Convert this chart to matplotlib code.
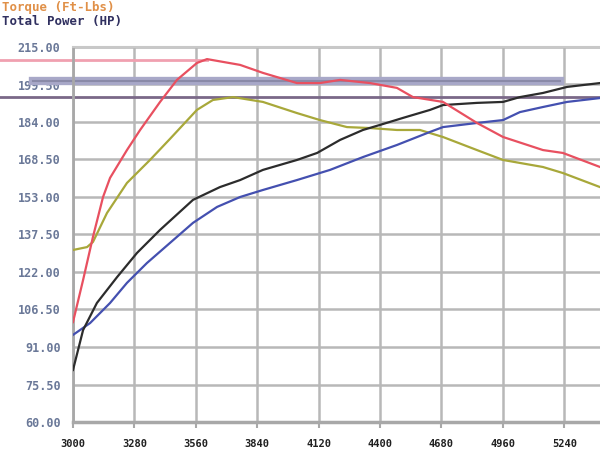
import matplotlib

matplotlib.use("Agg")
import matplotlib.pyplot as plt

# traced from the dyno sheet (rpm, value)
red_rpm = [3000, 3046, 3091, 3137, 3169, 3246, 3306, 3397, 3474, 3565, 3611, 3762, 3866,
           4021, 4126, 4218, 4354, 4477, 4550, 4687, 4842, 4961, 5143, 5234, 5403]
red_val = [101.3, 118.7, 136.5, 153.0, 160.9, 172.4, 180.7, 192.3, 201.4, 208.4, 210.0, 207.6, 204.3,
           200.1, 200.1, 201.4, 200.1, 198.1, 194.3, 192.3, 183.6, 177.8, 172.4, 171.2, 165.4]

yellow_rpm = [3000, 3064, 3091, 3155, 3246, 3351, 3442, 3565, 3638, 3730, 3866, 4021,
              4126, 4249, 4354, 4477, 4582, 4687, 4842, 4961, 5143, 5234, 5403]
yellow_val = [131.1, 132.3, 134.4, 146.4, 158.8, 168.3, 177.0, 189.0, 193.1, 194.3, 192.3, 187.7,
              184.8, 181.9, 181.5, 180.7, 180.7, 177.8, 172.4, 168.3, 165.4, 162.9, 157.1]

black_rpm = [3000, 3046, 3109, 3201, 3292, 3397, 3547, 3670, 3762, 3866, 4021, 4113,
             4218, 4322, 4400, 4505, 4628, 4687, 4842, 4961, 5038, 5143, 5253, 5403]
black_val = [81.5, 98.0, 109.2, 119.9, 129.9, 139.4, 151.8, 157.1, 160.0, 164.2, 168.3, 171.2,
             176.6, 180.7, 182.8, 185.7, 189.0, 191.0, 191.9, 192.3, 194.3, 196.0, 198.5, 200.1]

blue_rpm = [3000, 3078, 3169, 3246, 3337, 3442, 3547, 3657, 3762, 3866, 4021,
            4172, 4322, 4477, 4628, 4687, 4842, 4961, 5038, 5143, 5253, 5403]
blue_val = [96.0, 100.9, 109.2, 117.5, 125.7, 134.0, 142.3, 148.9, 153.0, 155.9, 160.0,
            164.2, 169.5, 174.5, 179.9, 181.9, 183.6, 184.8, 188.1, 190.2, 192.3, 193.9]

x_ticks = [3000, 3280, 3560, 3840, 4120, 4400, 4680, 4960, 5240]
y_ticks = [60.0, 75.5, 91.0, 106.5, 122.0, 137.5, 153.0, 168.5, 184.0, 199.5, 215.0]

# peak cursor lines: (value, rpm start, rpm end)
pink_cursor = (209.6, 2667, 3611)
band_cursor = (201.0, 2818, 5221)
purple_cursor = (194.3, 2667, 5403)

fig = plt.figure(figsize=(6.0, 4.54), dpi=100)
ax = fig.add_axes([73 / 600, 1 - 422 / 454, 1 - 73 / 600, 375 / 454])
ax.set_xlim(3000, 5403)
ax.set_ylim(60, 215)

ax.set_xticks(x_ticks)
ax.set_yticks(y_ticks)
ax.set_xticklabels([str(v) for v in x_ticks])
ax.set_yticklabels([f"{v:.2f}" for v in y_ticks])
ax.grid(True, color="#b8b8b8", linewidth=1.8)
ax.set_axisbelow(True)

ax.spines["right"].set_visible(False)
ax.spines["top"].set_color("#c8c8c8")
ax.spines["top"].set_linewidth(1.5)
ax.spines["left"].set_color("#a8a8a8")
ax.spines["left"].set_linewidth(2.0)
ax.spines["bottom"].set_color("#a8a8a8")
ax.spines["bottom"].set_linewidth(2.5)

ax.tick_params(axis="y", length=0, pad=9, labelcolor="#6a7898")
ax.tick_params(axis="x", length=4, width=1.5, color="#a8a8a8", pad=8, labelcolor="#202020")
for lab in ax.get_yticklabels():
    lab.set_fontfamily("DejaVu Sans Mono")
    lab.set_fontweight("bold")
    lab.set_fontsize(8.5)
for lab in ax.get_xticklabels():
    lab.set_fontfamily("DejaVu Sans Mono")
    lab.set_fontweight("bold")
    lab.set_fontsize(7.5)

# cursor lines, running out past the left axis
val, x0, x1 = pink_cursor
ax.plot([x0, x1], [val, val], color="#f0a0b0", linewidth=2.0, clip_on=False, zorder=2)
val, x0, x1 = band_cursor
ax.plot([x0, x1], [val, val], color="#a8a8c8", linewidth=6.0, clip_on=False, zorder=2)
ax.plot([x0, x1], [val, val], color="#8a8aa8", linewidth=1.5, clip_on=False, zorder=2)
val, x0, x1 = purple_cursor
ax.plot([x0, x1], [val, val], color="#7a6888", linewidth=2.0, clip_on=False, zorder=2)

ax.plot(yellow_rpm, yellow_val, color="#a8a83a", linewidth=1.6, zorder=3)
ax.plot(blue_rpm, blue_val, color="#4450b0", linewidth=1.6, zorder=3)
ax.plot(black_rpm, black_val, color="#2c2c2c", linewidth=1.6, zorder=3)
ax.plot(red_rpm, red_val, color="#e85060", linewidth=1.6, zorder=4)

# legend text at the top left
fig.text(2 / 600, 1 - 8 / 454, "Torque (Ft-Lbs)", color="#e09048", fontsize=9,
         fontfamily="DejaVu Sans Mono", fontweight="bold", va="center", ha="left")
fig.text(2 / 600, 1 - 21 / 454, "Total Power (HP)", color="#303060", fontsize=9,
         fontfamily="DejaVu Sans Mono", fontweight="bold", va="center", ha="left")

fig.savefig("out.png", dpi=100)
